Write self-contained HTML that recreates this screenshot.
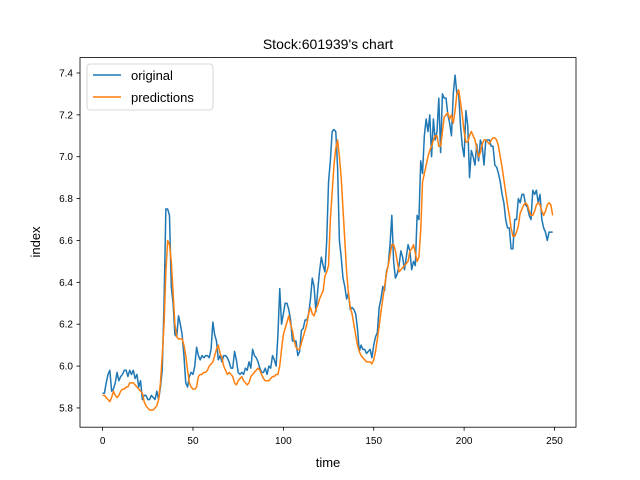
<!DOCTYPE html>
<html><head><meta charset="utf-8"><style>body{margin:0;background:#fff}svg{display:block;font-family:"Liberation Sans","DejaVu Sans",sans-serif}</style></head>
<body>
<svg id="chart" width="640" height="480">
<rect width="640" height="480" fill="#fff"/>
<text x="328" y="49" font-size="14" text-anchor="middle">Stock:601939's chart</text>
<g id="ticks"></g>
<g id="lines"></g>
<rect x="80" y="57.6" width="496" height="369.6" fill="none" stroke="#000" stroke-width="0.8"/>
<text x="328" y="467" font-size="13" text-anchor="middle">time</text>
<text x="0" y="0" font-size="13" text-anchor="middle" transform="translate(40,242) rotate(-90)">index</text>
<g>
<rect x="87" y="64" width="126" height="46" rx="3" fill="#fff" fill-opacity="0.8" stroke="#ccc" stroke-width="0.8"/>
<g><line x1="93" y1="75" x2="121" y2="75" stroke="#1f77b4" stroke-width="1.5"/><text x="131" y="80" font-size="13">original</text></g>
<g><line x1="93" y1="97" x2="121" y2="97" stroke="#ff7f0e" stroke-width="1.5"/><text x="131" y="102" font-size="13">predictions</text></g>
</g>
</svg>
<script>
const xTicks=[0,50,100,150,200,250];
const yTicks=[5.8,6.0,6.2,6.4,6.6,6.8,7.0,7.2,7.4];
const original=[5.87,5.87,5.92,5.96,5.98,5.88,5.89,5.92,5.97,5.93,
5.95,5.96,5.98,5.98,5.95,5.98,5.96,5.98,5.94,
5.96,5.90,5.93,5.84,5.86,5.86,5.84,5.84,5.86,5.85,
5.84,5.88,5.84,5.90,5.98,6.30,6.75,6.75,6.72,6.38,
6.30,6.15,6.14,6.24,6.20,6.15,6.05,5.92,5.90,
5.95,5.97,5.96,6.00,6.09,6.05,6.03,6.05,6.04,6.05,
6.05,6.04,6.08,6.21,6.15,6.12,6.03,6.05,6.02,
6.05,6.05,6.04,6.02,5.99,5.99,6.07,6.03,5.97,5.96,
5.97,5.96,5.99,5.98,6.02,5.99,6.08,6.05,6.04,6.02,
5.99,5.97,5.97,5.99,5.96,6.00,5.99,6.05,6.03,
6.00,6.15,6.37,6.20,6.25,6.30,6.30,6.27,6.22,6.12,
6.12,6.12,6.05,6.07,6.17,6.18,6.22,6.22,6.25,6.32,
6.42,6.38,6.26,6.36,6.45,6.52,6.48,6.45,6.60,
6.88,6.98,7.12,7.13,7.12,6.95,6.60,6.52,6.42,6.38,
6.32,6.35,6.27,6.28,6.27,6.25,6.18,6.07,6.10,6.08,
6.08,6.06,6.07,6.08,6.04,6.10,6.14,6.16,6.28,
6.32,6.38,6.36,6.45,6.48,6.58,6.72,6.50,6.42,6.44,
6.48,6.55,6.52,6.46,6.52,6.58,6.55,6.46,6.50,6.48,
6.72,6.70,6.98,6.92,7.10,7.18,7.12,7.20,7.00,
7.18,7.08,7.12,7.28,7.02,7.30,7.28,7.28,7.20,7.16,
7.10,7.30,7.39,7.30,7.30,7.15,7.05,7.00,7.22,
7.15,6.90,7.03,7.00,6.96,7.06,6.98,7.08,7.05,6.96,
7.08,7.08,7.08,7.05,7.05,6.96,6.95,6.92,6.88,6.82,
6.78,6.70,6.66,6.66,6.56,6.56,6.70,6.70,6.80,
6.78,6.82,6.82,6.77,6.76,6.72,6.70,6.84,6.82,6.84,
6.78,6.82,6.70,6.66,6.64,6.60,6.64,6.64,6.64];
const predictions=[5.86,5.86,5.85,5.84,5.83,5.85,5.88,5.86,5.85,5.86,5.88,5.89,
5.89,5.90,5.90,5.92,5.92,5.92,5.91,5.90,5.89,
5.88,5.87,5.83,5.81,5.80,5.79,5.79,5.79,5.80,5.81,
5.84,5.92,6.05,6.20,6.45,6.60,6.58,6.50,6.35,6.20,
6.14,6.13,6.13,6.13,6.10,6.05,5.98,5.92,5.90,
5.89,5.89,5.90,5.95,5.96,5.96,5.97,5.97,5.98,6.00,
6.01,6.02,6.05,6.08,6.10,6.06,6.04,6.00,5.98,
5.96,5.97,5.96,5.95,5.92,5.91,5.93,5.94,5.95,5.93,
5.92,5.91,5.92,5.95,5.96,5.97,5.98,5.99,5.98,5.96,
5.94,5.93,5.93,5.93,5.94,5.95,5.95,5.96,5.96,
6.00,6.08,6.15,6.18,6.21,6.24,6.20,6.17,6.12,6.09,
6.08,6.08,6.11,6.14,6.17,6.20,6.25,6.28,6.25,6.24,
6.27,6.29,6.32,6.34,6.36,6.43,6.45,6.48,6.70,
6.83,6.96,7.04,7.08,7.00,6.90,6.75,6.60,6.45,6.35,
6.28,6.25,6.20,6.15,6.10,6.07,6.05,6.04,6.03,6.02,
6.02,6.02,6.01,6.03,6.07,6.13,6.19,6.26,6.32,
6.38,6.44,6.48,6.53,6.58,6.58,6.55,6.50,6.45,6.46,
6.47,6.48,6.49,6.50,6.55,6.56,6.58,6.54,6.50,6.52,
6.65,6.88,6.92,6.96,7.00,7.03,7.05,7.08,7.10,
7.10,7.05,7.05,7.12,7.19,7.20,7.21,7.18,7.20,7.16,
7.22,7.30,7.32,7.26,7.20,7.12,7.07,7.07,7.10,
7.12,7.10,7.08,7.04,7.00,7.02,7.06,7.08,7.08,7.07,
7.06,7.08,7.09,7.09,7.08,7.05,7.00,6.95,6.89,6.83,
6.77,6.72,6.66,6.62,6.62,6.64,6.67,6.73,6.75,
6.77,6.78,6.77,6.74,6.72,6.72,6.74,6.77,6.78,6.77,
6.74,6.72,6.74,6.77,6.78,6.77,6.72];
const X0=80,X1=576,Y0=57.6,Y1=427.2;
const xmin=-12.5,xmax=261.9,ymin=5.708,ymax=7.4735;
const sx=v=>X0+(v-xmin)/(xmax-xmin)*(X1-X0);
const sy=v=>Y1-(v-ymin)/(ymax-ymin)*(Y1-Y0);
const NS='http://www.w3.org/2000/svg';
const tg=document.getElementById('ticks');
function mk(t,a){const e=document.createElementNS(NS,t);for(const k in a)e.setAttribute(k,a[k]);return e;}
xTicks.forEach(t=>{const x=sx(t);
const l=mk('line',{x1:x,x2:x,y1:Y1,y2:Y1+3.5,stroke:'#000','stroke-width':0.8});


tg.appendChild(l);
const tx=mk('text',{x:x,y:Y1+17,'font-size':10,'text-anchor':'middle'});tx.textContent=t;


tg.appendChild(tx);});
yTicks.forEach(t=>{const y=sy(t);
const l=mk('line',{x1:X0-3.5,x2:X0,y1:y,y2:y,stroke:'#000','stroke-width':0.8});


tg.appendChild(l);
const tx=mk('text',{x:X0-7,y:y+3.5,'font-size':10,'text-anchor':'end'});tx.textContent=t.toFixed(1);


tg.appendChild(tx);});
const lg=document.getElementById('lines');
function line(d,c,n){const p=mk('path',{d:d.map((v,i)=>(i?'L':'M')+sx(i).toFixed(2)+','+sy(v).toFixed(2)).join(''),fill:'none',stroke:c,'stroke-width':1.5,'stroke-linejoin':'round'});


lg.appendChild(p);}
line(original,'#1f77b4','original-line');
line(predictions,'#ff7f0e','predictions-line');
</script>
</body></html>
